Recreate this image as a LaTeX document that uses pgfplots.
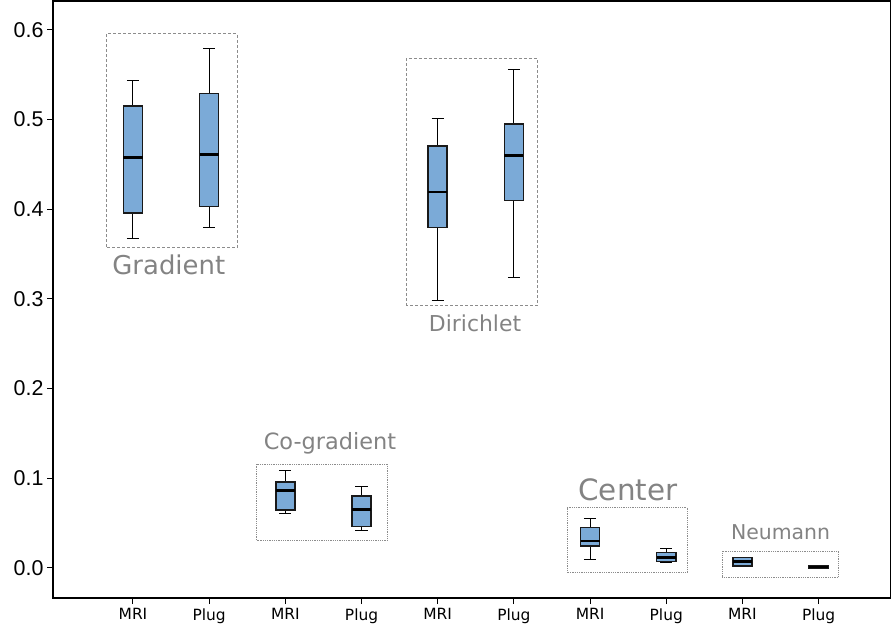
\documentclass[border=0pt]{standalone}
\usepackage{fontspec}
\setmainfont{DejaVu Sans}
\newfontfamily\numfont{Liberation Sans}
\usepackage{pgfplots}
\pgfplotsset{compat=1.18}
\usepgfplotslibrary{statistics}
\definecolor{boxfill}{HTML}{7BAAD7}
\definecolor{labelgray}{HTML}{838383}
\definecolor{rectgray}{HTML}{8C8C8C}

\begin{document}
\begin{tikzpicture}
\begin{axis}[
  at={(0,0)}, anchor=south west,
  width=838bp, height=597bp, scale only axis,
  xmin=-0.05, xmax=10.95,
  ymin=-0.0335, ymax=0.632,
  axis line style={black, line width=1.2bp},
  xtick={1,...,10},
  xticklabels={MRI,Plug,MRI,Plug,MRI,Plug,MRI,Plug,MRI,Plug},
  ytick={0,0.1,0.2,0.3,0.4,0.5,0.6},
  /pgf/number format/.cd, fixed, fixed zerofill, precision=1, assume math mode=true, /pgfplots/.cd,
  tick align=outside, xtick pos=bottom, ytick pos=left,
  major tick length=6bp,
  tick style={black, line width=1bp},
  xticklabel style={font=\fontsize{15.5}{15.5}\selectfont, yshift=-1bp},
  yticklabel style={font=\numfont\fontsize{21.5}{21.5}\selectfont},
  boxplot/draw direction=y,
  boxplot/every box/.style={draw=black!90, fill=boxfill, line width=1.5bp},
  boxplot/every median/.style={draw=black, line width=2.8bp},
  boxplot/every whisker/.style={draw=black, line width=1bp},
  boxplot/box extend=0.25,
  boxplot/whisker extend=0.16,
  clip=false,
]
% Gradient
\addplot[black, line width=1bp, boxplot prepared={draw position=1, lower whisker=0.367, lower quartile=0.3955, median=0.4576, upper quartile=0.515, upper whisker=0.5435}] coordinates {};
\addplot[black, line width=1bp, boxplot prepared={draw position=2, lower whisker=0.379, lower quartile=0.403, median=0.461, upper quartile=0.529, upper whisker=0.579}] coordinates {};
% Co-gradient
\addplot[black, line width=1bp, boxplot prepared={draw position=3, lower whisker=0.061, lower quartile=0.0647, median=0.0859, upper quartile=0.0956, upper whisker=0.1082}] coordinates {};
\addplot[black, line width=1bp, boxplot prepared={draw position=4, lower whisker=0.0413, lower quartile=0.0461, median=0.065, upper quartile=0.0803, upper whisker=0.0907}] coordinates {};
% Dirichlet
\addplot[black, line width=1bp, boxplot prepared={draw position=5, lower whisker=0.298, lower quartile=0.3795, median=0.419, upper quartile=0.4706, upper whisker=0.5015}] coordinates {};
\addplot[black, line width=1bp, boxplot prepared={draw position=6, lower whisker=0.3242, lower quartile=0.4097, median=0.4595, upper quartile=0.4948, upper whisker=0.5557}] coordinates {};
% Center
\addplot[black, line width=1bp, boxplot prepared={draw position=7, lower whisker=0.0089, lower quartile=0.0245, median=0.0301, upper quartile=0.045, upper whisker=0.0554}] coordinates {};
\addplot[black, line width=1bp, boxplot prepared={draw position=8, lower whisker=0.006, lower quartile=0.007, median=0.0119, upper quartile=0.0171, upper whisker=0.0212}] coordinates {};
% Neumann
\addplot[black, line width=1bp, boxplot prepared={draw position=9, lower whisker=0.002, lower quartile=0.0022, median=0.007, upper quartile=0.0115, upper whisker=0.012}] coordinates {};
\addplot[black, line width=1bp, boxplot prepared={draw position=10, lower whisker=0.0, lower quartile=0.0, median=0.001, upper quartile=0.0022, upper whisker=0.0022}] coordinates {};

\draw[rectgray, dash pattern=on 3bp off 2bp, line width=0.8bp] (axis cs:0.655,0.3577) rectangle (axis cs:2.369,0.5955);
\draw[rectgray, dash pattern=on 3bp off 2bp, line width=0.8bp] (axis cs:4.583,0.2922) rectangle (axis cs:6.306,0.5676);
\draw[rectgray, densely dotted, line width=0.8bp] (axis cs:2.623,0.0312) rectangle (axis cs:4.342,0.1156);
\draw[rectgray, densely dotted, line width=0.8bp] (axis cs:6.70,-0.0052) rectangle (axis cs:8.274,0.0673);
\draw[rectgray, densely dotted, line width=0.8bp] (axis cs:8.734,-0.0104) rectangle (axis cs:10.256,0.019);

\node[text=labelgray, font=\fontsize{26}{26}\selectfont] at (axis cs:1.47,0.338) {Gradient};
\node[text=labelgray, font=\fontsize{22}{22}\selectfont] at (axis cs:5.49,0.273) {Dirichlet};
\node[text=labelgray, font=\fontsize{22.5}{22.5}\selectfont] at (axis cs:3.585,0.139) {Co-gradient};
\node[text=labelgray, font=\fontsize{29.5}{29.5}\selectfont] at (axis cs:7.496,0.087) {Center};
\node[text=labelgray, font=\fontsize{20.5}{20.5}\selectfont] at (axis cs:9.50,0.040) {Neumann};
\end{axis}
\pgfresetboundingbox
\path[use as bounding box] (-53bp,-35bp) rectangle (838bp,598bp);
\end{tikzpicture}
\end{document}
